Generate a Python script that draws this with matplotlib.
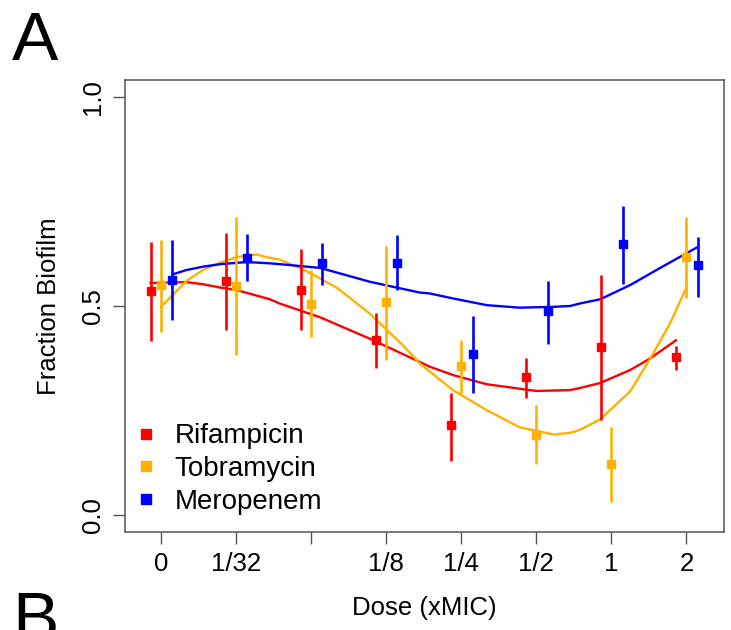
import numpy as np
import matplotlib
matplotlib.use('Agg')
import matplotlib.pyplot as plt
from matplotlib.lines import Line2D

plt.rcParams['font.family'] = ['Liberation Sans', 'DejaVu Sans']

# dose categories (positions 1..8 on the axis)
dose_labels = ['0', '1/32', '', '1/8', '1/4', '1/2', '1', '2']
drugs = ['Rifampicin', 'Tobramycin', 'Meropenem']
colors = ['#FF0000', '#FFB000', '#0000FF']

# measured fraction biofilm, with error bar ends
rif_mean = [0.536, 0.560, 0.539, 0.419, 0.215, 0.330, 0.403, 0.378]
rif_low = [0.417, 0.442, 0.442, 0.353, 0.129, 0.281, 0.227, 0.348]
rif_high = [0.652, 0.675, 0.636, 0.484, 0.293, 0.376, 0.574, 0.404]

tob_mean = [0.549, 0.547, 0.505, 0.509, 0.356, 0.192, 0.123, 0.618]
tob_low = [0.438, 0.382, 0.425, 0.372, 0.292, 0.122, 0.032, 0.519]
tob_high = [0.657, 0.712, 0.586, 0.644, 0.418, 0.263, 0.210, 0.713]

mer_mean = [0.563, 0.615, 0.603, 0.603, 0.385, 0.488, 0.647, 0.597]
mer_low = [0.466, 0.560, 0.549, 0.538, 0.292, 0.410, 0.552, 0.522]
mer_high = [0.657, 0.672, 0.650, 0.669, 0.476, 0.560, 0.739, 0.665]

# fitted curves
rif_fit_x = [0.86, 1.34, 1.56, 1.79, 2.01, 2.45, 2.58, 3.12, 3.78, 4.45, 4.58, 4.89,
             5.34, 6.0, 6.45, 6.58, 6.85, 7.25, 7.51, 7.86]
rif_fit_y = [0.555, 0.557, 0.552, 0.544, 0.538, 0.516, 0.506, 0.473, 0.422, 0.366, 0.355, 0.335,
             0.313, 0.297, 0.299, 0.304, 0.316, 0.347, 0.374, 0.418]
tob_fit_x = [1.0, 1.12, 1.34, 1.56, 1.79, 2.01, 2.27, 2.45, 2.58, 2.9, 3.34, 3.78, 4.23,
             4.45, 4.89, 5.34, 5.78, 6.23, 6.45, 6.58, 6.85, 7.25, 7.51, 7.78, 8.0]
tob_fit_y = [0.498, 0.520, 0.560, 0.586, 0.604, 0.617, 0.623, 0.615, 0.611, 0.587, 0.544, 0.482, 0.405,
             0.362, 0.299, 0.251, 0.210, 0.193, 0.197, 0.204, 0.229, 0.296, 0.372, 0.458, 0.544]
mer_fit_x = [1.16, 1.34, 1.56, 1.79, 2.14, 2.45, 2.58, 3.12, 3.78, 4.45, 4.58, 4.89,
             5.34, 5.78, 6.23, 6.45, 6.58, 6.85, 7.25, 7.64, 8.15]
mer_fit_y = [0.576, 0.586, 0.594, 0.600, 0.605, 0.602, 0.600, 0.591, 0.558, 0.532, 0.530, 0.518,
             0.502, 0.496, 0.498, 0.500, 0.506, 0.516, 0.550, 0.590, 0.641]

means = [rif_mean, tob_mean, mer_mean]
lows = [rif_low, tob_low, mer_low]
highs = [rif_high, tob_high, mer_high]
fits = [(rif_fit_x, rif_fit_y), (tob_fit_x, tob_fit_y), (mer_fit_x, mer_fit_y)]
offsets = [-0.14, 0.0, 0.15]

fig = plt.figure(figsize=(7.31, 6.30), dpi=100)
ax = fig.add_axes([125/731, 98/630, 599/731, 452/630])

pos = np.arange(1, len(dose_labels) + 1)
for m, lo, hi, c, off in zip(means, lows, highs, colors, offsets):
    m = np.array(m)
    yerr = [m - np.array(lo), np.array(hi) - m]
    ax.errorbar(pos + off, m, yerr=yerr, fmt='s', color=c, ms=5.8,
                elinewidth=1.9, capsize=0, zorder=3)
for (fx, fy), c in zip(fits, colors):
    ax.plot(fx, fy, color=c, lw=1.7, zorder=2)

ax.set_xlim(0.52, 8.5)
ax.set_ylim(-0.04, 1.04)
ax.set_xticks(pos)
ax.set_xticklabels(dose_labels)
ax.set_yticks([0.0, 0.5, 1.0])
ax.set_yticklabels(['0.0', '0.5', '1.0'], rotation=90, va='center')
ax.tick_params(axis='both', length=8.5, width=1.0, color='#555555', labelsize=18.5, pad=6)
for s in ax.spines.values():
    s.set_color('#555555')
    s.set_linewidth(1.1)

ax.set_xlabel('Dose (xMIC)', fontsize=18.5, labelpad=14)
ax.set_ylabel('Fraction Biofilm', fontsize=18.5, labelpad=14)

handles = [Line2D([], [], marker='s', ls='none', color=c, ms=7) for c in colors]
ax.legend(handles, drugs, loc='lower left', bbox_to_anchor=(-0.035, -0.018), frameon=False,
          fontsize=20, handletextpad=0.45, labelspacing=0.25, handlelength=1.2)

fig.text(12/731, 1 - 10/630, 'A', fontsize=50, va='top', ha='left')
fig.text(12/731, 1 - 590/630, 'B', fontsize=50, va='top', ha='left')

fig.savefig('out.png', dpi=100)
